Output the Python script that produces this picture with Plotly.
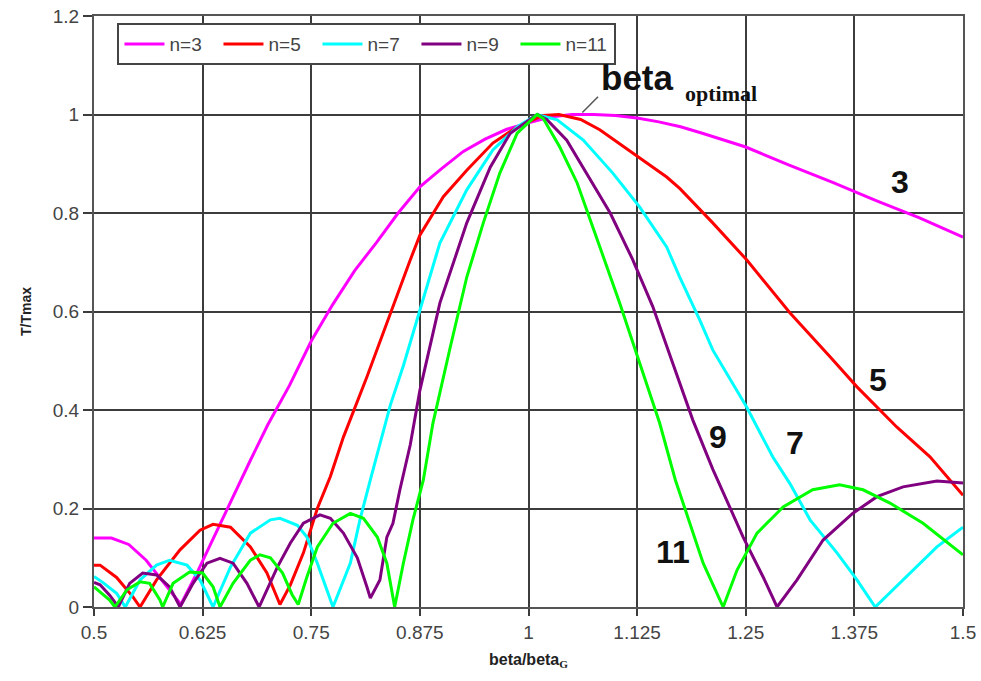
import plotly.graph_objects as go

# ---- data ----
x_n3 = [0.5, 0.52, 0.54, 0.56, 0.58, 0.60, 0.62, 0.64, 0.66, 0.68, 0.70, 0.725, 0.75, 0.775, 0.8, 0.825,
        0.85, 0.875, 0.9, 0.925, 0.95, 0.975, 1.0, 1.025, 1.05, 1.075, 1.1, 1.125, 1.15, 1.175, 1.2,
        1.25, 1.3, 1.35, 1.4, 1.45, 1.5]
y_n3 = [0.14, 0.14, 0.127, 0.095, 0.05, 0.005, 0.075, 0.15, 0.225, 0.298, 0.37, 0.45, 0.54, 0.615, 0.683, 0.74,
        0.80, 0.853, 0.89, 0.925, 0.95, 0.97, 0.983, 0.995, 1.0, 1.0, 0.998, 0.993, 0.985, 0.975, 0.962,
        0.934, 0.897, 0.862, 0.825, 0.79, 0.751]

x_n5 = [0.5, 0.507, 0.526, 0.545, 0.553, 0.572, 0.599, 0.622, 0.637, 0.657, 0.68, 0.699, 0.714, 0.726, 0.741,
        0.757, 0.772, 0.787, 0.814, 0.841, 0.852, 0.864, 0.875, 0.902, 0.929, 0.959, 0.987, 1.017, 1.035, 1.06,
        1.082, 1.12, 1.159, 1.174, 1.197, 1.212, 1.251, 1.301, 1.347, 1.378, 1.424, 1.462, 1.5]
y_n5 = [0.085, 0.085, 0.06, 0.02, 0.0, 0.055, 0.116, 0.156, 0.168, 0.162, 0.122, 0.069, 0.005, 0.045, 0.11,
        0.2, 0.265, 0.345, 0.467, 0.597, 0.65, 0.705, 0.755, 0.833, 0.887, 0.942, 0.975, 0.998, 1.0, 0.99,
        0.969, 0.922, 0.873, 0.85, 0.808, 0.78, 0.705, 0.597, 0.508, 0.447, 0.365, 0.305, 0.227]

x_n7 = [0.5, 0.51, 0.526, 0.536, 0.553, 0.572, 0.587, 0.607, 0.622, 0.637, 0.657, 0.68, 0.703, 0.714, 0.734,
        0.745, 0.757, 0.775, 0.795, 0.806, 0.818, 0.83, 0.841, 0.856, 0.872, 0.898, 0.929, 0.959, 0.987, 1.01,
        1.033, 1.063, 1.097, 1.128, 1.159, 1.174, 1.197, 1.212, 1.251, 1.281, 1.301, 1.324, 1.355, 1.378,
        1.399, 1.431, 1.47, 1.5]
y_n7 = [0.062, 0.05, 0.028, 0.0, 0.055, 0.085, 0.095, 0.085, 0.055, 0.0, 0.081, 0.15, 0.177, 0.18, 0.166,
        0.142, 0.089, 0.0, 0.089, 0.177, 0.258, 0.34, 0.41, 0.49, 0.585, 0.739, 0.847, 0.928, 0.975, 1.0,
        0.989, 0.948, 0.881, 0.812, 0.731, 0.67, 0.583, 0.522, 0.406, 0.305, 0.25, 0.177, 0.11, 0.055,
        0.0, 0.055, 0.122, 0.162]

x_n9 = [0.5, 0.507, 0.518, 0.528, 0.541, 0.556, 0.572, 0.587, 0.599, 0.614, 0.63, 0.645, 0.66, 0.676, 0.69,
        0.711, 0.726, 0.741, 0.76, 0.772, 0.787, 0.803, 0.814, 0.818, 0.829, 0.837, 0.844, 0.852, 0.864, 0.875,
        0.898, 0.929, 0.956, 0.979, 1.01, 1.021, 1.044, 1.067, 1.094, 1.12, 1.143, 1.166, 1.189, 1.212, 1.232,
        1.247, 1.27, 1.286, 1.309, 1.339, 1.373, 1.401, 1.431, 1.47, 1.5]
y_n9 = [0.05, 0.045, 0.024, 0.0, 0.048, 0.069, 0.065, 0.041, 0.0, 0.048, 0.089, 0.099, 0.089, 0.048, 0.0,
        0.081, 0.13, 0.17, 0.187, 0.18, 0.15, 0.10, 0.041, 0.018, 0.055, 0.142, 0.17, 0.238, 0.33, 0.44,
        0.617, 0.78, 0.893, 0.962, 1.0, 0.99, 0.948, 0.881, 0.80, 0.705, 0.61, 0.495, 0.38, 0.28, 0.203,
        0.142, 0.061, 0.0, 0.055, 0.136, 0.19, 0.224, 0.244, 0.256, 0.252]

x_n11 = [0.5, 0.507, 0.518, 0.524, 0.538, 0.553, 0.564, 0.576, 0.579, 0.591, 0.61, 0.625, 0.637, 0.645, 0.66,
         0.68, 0.691, 0.703, 0.717, 0.728, 0.735, 0.745, 0.757, 0.775, 0.795, 0.81, 0.826, 0.837, 0.846, 0.856,
         0.867, 0.879, 0.89, 0.91, 0.929, 0.948, 0.967, 0.987, 1.01, 1.017, 1.036, 1.056, 1.082, 1.105, 1.128,
         1.151, 1.169, 1.186, 1.201, 1.224, 1.24, 1.263, 1.293, 1.327, 1.358, 1.385, 1.416, 1.454, 1.5]
y_n11 = [0.041, 0.03, 0.014, 0.0, 0.035, 0.051, 0.048, 0.014, 0.0, 0.048, 0.071, 0.069, 0.041, 0.0, 0.048,
         0.095, 0.106, 0.10, 0.069, 0.025, 0.005, 0.061, 0.122, 0.17, 0.19, 0.18, 0.142, 0.089, 0.0, 0.089,
         0.177, 0.258, 0.373, 0.528, 0.67, 0.78, 0.881, 0.962, 1.0, 0.992, 0.934, 0.861, 0.731, 0.617, 0.495,
         0.373, 0.258, 0.17, 0.089, 0.0, 0.075, 0.15, 0.203, 0.238, 0.248, 0.238, 0.211, 0.17, 0.106]

series_names = ["n=3", "n=5", "n=7", "n=9", "n=11"]
series_x = [x_n3, x_n5, x_n7, x_n9, x_n11]
series_y = [y_n3, y_n5, y_n7, y_n9, y_n11]
series_colors = ["#FF00FF", "#FF0000", "#00FFFF", "#800080", "#00FF00"]

x_tickvals = [0.5, 0.625, 0.75, 0.875, 1.0, 1.125, 1.25, 1.375, 1.5]
x_ticktext = ["0.5", "0.625", "0.75", "0.875", "1", "1.125", "1.25", "1.375", "1.5"]
y_tickvals = [0, 0.2, 0.4, 0.6, 0.8, 1.0, 1.2]
y_ticktext = ["0", "0.2", "0.4", "0.6", "0.8", "1", "1.2"]

curve_labels = ["3", "5", "7", "9", "11"]
label_x = [1.428, 1.402, 1.307, 1.218, 1.166]
label_y = [0.862, 0.46, 0.332, 0.345, 0.112]

fig = go.Figure()
for name, xs, ys, col in zip(series_names, series_x, series_y, series_colors):
    fig.add_trace(go.Scatter(x=xs, y=ys, mode="lines", name=name,
                             line=dict(color=col, width=3)))

for t, lx, ly in zip(curve_labels, label_x, label_y):
    fig.add_annotation(x=lx, y=ly, xref="x", yref="y", text="<b>" + t + "</b>",
                       showarrow=False, font=dict(family="Arial", size=32, color="#111"))

fig.add_annotation(x=1.125, y=1.075, xref="x", yref="y", text="<b>beta</b>", showarrow=False,
                   font=dict(family="Arial", size=35, color="#111"))
fig.add_annotation(x=1.222, y=1.043, xref="x", yref="y", text="<b>optimal</b>", showarrow=False,
                   font=dict(family="Liberation Serif", size=22, color="#111"))
fig.add_shape(type="line", xref="x", yref="y", x0=1.062, y0=1.004, x1=1.08, y1=1.036,
              line=dict(color="#555", width=1.5))

grid = "#3c3c3c"
fig.update_layout(
    width=981, height=681,
    margin=dict(l=94, r=18, t=16, b=74),
    paper_bgcolor="white", plot_bgcolor="white",
    font=dict(family="Arial", color="#333"),
    legend=dict(orientation="h", x=0.027, y=0.988, xanchor="left", yanchor="top",
                bgcolor="white", bordercolor="#444", borderwidth=2,
                font=dict(family="Arial", size=19, color="#444"),
                entrywidth=44, entrywidthmode="pixels", itemwidth=40,
                tracegroupgap=0),
    xaxis=dict(range=[0.5, 1.5], tickvals=x_tickvals, ticktext=x_ticktext, automargin=False,
               showgrid=True, gridcolor=grid, gridwidth=2,
               showline=True, linecolor="#555", linewidth=2, mirror=True,
               ticks="outside", ticklen=7, tickcolor=grid, tickwidth=2,
               tickfont=dict(size=19, color="#444"), zeroline=False,
               title=dict(text="<b>beta/beta</b><sub><span style='font-family:Liberation Serif'><b>G</b></span></sub>",
                          font=dict(size=16, color="#222"), standoff=12)),
    yaxis=dict(range=[0, 1.2], tickvals=y_tickvals, ticktext=y_ticktext, automargin=False,
               showgrid=True, gridcolor=grid, gridwidth=2,
               showline=True, linecolor="#555", linewidth=2, mirror=True,
               ticks="outside", ticklen=9, tickcolor=grid, tickwidth=2,
               tickfont=dict(size=19, color="#444"), zeroline=False,
               title=dict(text="<b>T/Tmax</b>", font=dict(size=14, color="#222"), standoff=18)),
)

fig.write_html("out.html")
